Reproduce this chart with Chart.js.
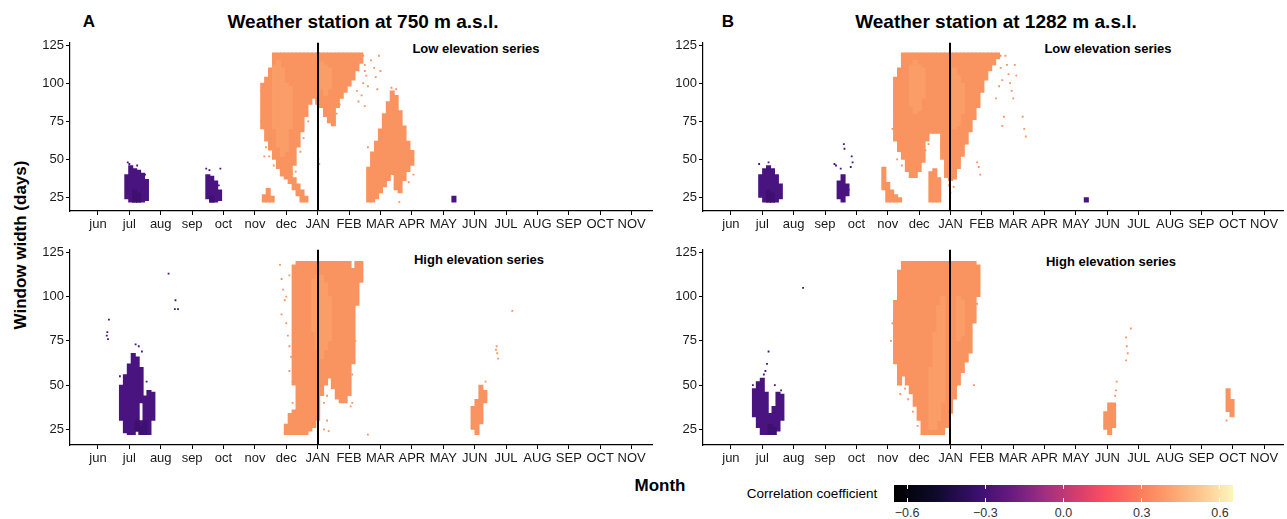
<!DOCTYPE html>
<html>
<head>
<meta charset="utf-8">
<script src="https://cdn.jsdelivr.net/npm/chart.js@4.4.1/dist/chart.umd.min.js"></script>
<style>
  body { margin: 0; background: #fff; width: 1287px; height: 519px; overflow: hidden; position: relative;
         font-family: "Liberation Sans", Arial, sans-serif; color: #000; }
  canvas { position: absolute; }
  .t { position: absolute; white-space: nowrap; transform: translate(-50%, -50%); }
  .b { font-weight: bold; }
  #cbar { position: absolute; left: 894px; top: 485px; width: 339px; height: 17px; }
</style>
</head>
<body>
<div class="t b" style="left:89px;top:22px;font-size:17px">A</div>
<div class="t b" style="left:363px;top:22px;font-size:19px">Weather station at 750 m a.s.l.</div>
<div class="t b" style="left:728px;top:22px;font-size:17px">B</div>
<div class="t b" style="left:996px;top:22px;font-size:19px">Weather station at 1282 m a.s.l.</div>
<div class="t b" style="left:476px;top:48px;font-size:13px">Low elevation series</div>
<div class="t b" style="left:1108px;top:48px;font-size:13px">Low elevation series</div>
<div class="t b" style="left:479px;top:259px;font-size:13px">High elevation series</div>
<div class="t b" style="left:1111px;top:261px;font-size:13px">High elevation series</div>
<div class="t b" style="left:21px;top:245px;font-size:17px;transform:translate(-50%,-50%) rotate(-90deg)">Window width (days)</div>
<div class="t b" style="left:660px;top:486px;font-size:17px">Month</div>
<div class="t" style="left:812px;top:493px;font-size:13.5px">Correlation coefficient</div>
<div id="cbar"></div>

<script>
// month axis: jun = 0 ... NOV = 17
const monthLabels = ['jun','jul','aug','sep','oct','nov','dec','JAN','FEB','MAR','APR','MAY','JUN','JUL','AUG','SEP','OCT','NOV'];
const janIndex = 7;
const windowTicks = [25, 50, 75, 100, 125];
const cbTicks = [-0.6, -0.3, 0.0, 0.3, 0.6];
const cbMin = -0.65, cbMax = 0.65;

// columns of significant correlations: [month position, lowest window, highest window]
// A, low elevation series
const aLowPurple = [
  [0.92,24,40],[1.045,22,46],[1.17,22,44],[1.295,22,43],[1.42,22,41],[1.545,23,37],
  [3.5,24,40],[3.625,22,39],[3.75,22,36],[3.875,23,30],
  [11.34,22,26]
];
const aLowPurpleCore = [[1.17,22,30],[1.295,22,28],[3.625,22,26]];
const aLowPurpleSpecks = [[0.95,48],[1.0,47],[1.25,46],[1.5,40],[3.45,44],[3.55,43],[3.9,44],[3.85,33]];
const aLowOrange = [
  [5.3,22,27],[5.425,22,31],[5.55,22,26],
  [5.25,70,100],[5.375,62,104],[5.5,56,110],[5.625,50,120],[5.75,44,120],[5.875,39,120],[6.0,37,120],
  [6.125,40,120],[6.25,46,120],[6.375,58,120],[6.5,68,120],[6.625,78,120],[6.75,86,120],[6.875,90,120],
  [7.0,86,120],[7.125,84,120],[7.25,78,120],[7.375,74,120],[7.5,72,120],[7.625,84,120],[7.75,90,120],
  [7.875,94,120],[8.0,98,120],[8.125,102,120],[8.25,108,120],[8.375,113,120],
  [6.0,40,46],[6.125,34,42],[6.25,30,38],[6.375,26,34],[6.5,22,30],[6.625,22,26],
  [8.625,22,45],[8.75,22,55],[8.875,24,62],[9.0,28,70],[9.125,32,80],[9.25,36,88],[9.375,40,95],
  [9.5,30,92],[9.625,28,82],[9.75,36,72],[9.875,42,62],[10.0,46,56]
];
const aLowOrangeCore = [[5.625,70,112],[5.75,58,115],[5.875,52,110],[6.0,55,100],[6.125,70,98],
  [7.125,96,114],[7.25,92,112],[7.375,96,110]];
const aLowOrangeSpecks = [[8.45,118],[8.5,112],[8.55,105],[8.6,98],[8.7,115],[8.8,110],[8.85,104],[8.9,96],
  [8.95,118],[9.0,108],[8.4,92],[8.5,85],[8.3,88],[8.25,95],[7.05,47],[7.02,50],[5.3,52],[9.35,97],
  [9.5,96],[10.05,40],[9.9,35],[9.6,22],[8.6,58],[5.2,95],[5.22,85],[5.2,75],[5.35,58],[5.45,52],
  [5.6,46],[6.3,42],[6.45,55],[6.55,64],[6.7,75],[7.6,80],[7.7,86],[8.45,100],[8.5,108]];

// A, high elevation series
const aHighPurple = [
  [0.75,30,50],[0.875,23,56],[1.0,22,62],[1.125,22,68],[1.25,24,66],[1.375,40,60],
  [1.375,22,30],[1.5,22,44],[1.625,22,47],[1.75,30,46]
];
const aHighPurpleCore = [[1.375,22,27],[1.5,22,30],[1.25,24,30]];
const aHighPurpleSpecks = [[0.28,78],[0.3,80],[0.32,76],[0.35,87],[2.25,113],[2.47,98],[2.45,93],[2.55,93],
  [1.3,72],[1.4,69],[1.2,73],[0.7,55],[1.55,52]];
const aHighOrange = [
  [6.0,22,28],[6.125,22,34],[6.25,22,36],
  [6.25,50,118],[6.375,22,120],[6.5,22,120],[6.625,22,120],[6.75,24,120],[6.875,26,120],[7.0,30,120],
  [7.125,44,120],[7.25,50,120],[7.375,54,120],[7.5,48,120],[7.625,42,120],[7.75,40,120],[7.875,40,120],
  [8.0,44,120],[8.125,62,116],[8.25,95,120],[8.375,108,120],
  [11.95,25,38],[12.075,22,42],[12.2,28,50],[12.325,40,47]
];
const aHighOrangeCore = [[6.875,80,110],[7.0,70,112],[7.125,65,112],[7.25,70,108],[7.375,75,100]];
const aHighOrangeSpecks = [[5.8,118],[5.85,110],[5.9,104],[5.95,98],[5.85,90],[6.0,85],[6.05,78],[6.1,72],
  [6.15,66],[6.1,58],[6.2,52],[6.0,100],[6.1,112],[7.2,25],[7.3,30],[7.35,24],[8.6,22],[8.15,85],
  [8.2,75],[8.1,56],[12.7,72],[12.72,68],[12.75,65],[12.68,70],[13.2,92],[12.35,52],[12.3,44],
  [6.2,40],[6.15,30],[7.2,40],[7.3,44],[8.1,40],[8.05,38]];

// B, low elevation series
const bLowPurple = [
  [0.95,25,40],[1.075,22,44],[1.2,22,46],[1.325,22,44],[1.45,22,40],[1.575,24,34],
  [3.45,24,36],[3.575,22,40],[3.7,26,34],
  [11.33,22,25]
];
const bLowPurpleCore = [[1.2,22,30],[1.325,22,28]];
const bLowPurpleSpecks = [[0.9,47],[1.2,48],[3.6,60],[3.62,57],[3.85,52],[3.88,48],[3.82,45],[3.3,47],
  [3.35,46],[3.5,44],[3.75,30]];
const bLowOrange = [
  [4.875,30,45],[5.0,22,35],[5.125,22,30],[5.25,22,27],[5.375,22,25],
  [5.25,62,104],[5.375,55,110],[5.5,50,120],[5.625,42,120],[5.75,38,120],[5.875,38,120],[6.0,42,120],
  [6.125,48,120],[6.25,62,120],[6.375,67,120],[6.5,67,120],[6.625,67,120],[6.75,50,120],[6.875,38,120],
  [6.375,22,42],[6.5,22,44],[6.625,22,38],
  [7.0,36,120],[7.125,37,120],[7.25,44,120],[7.375,52,120],[7.5,60,120],[7.625,68,120],[7.75,76,120],
  [7.875,84,120],[8.0,94,120],[8.125,102,120],[8.25,108,120],[8.375,112,120],[8.5,116,120]
];
const bLowOrangeCore = [[5.75,85,112],[5.875,80,115],[6.0,82,112],[6.125,90,110],
  [7.125,70,110],[7.25,72,105],[7.375,80,100]];
const bLowOrangeSpecks = [[7.9,45],[7.95,40],[7.85,48],[8.75,118],[8.8,112],[8.85,106],[8.9,100],[8.95,95],
  [9.0,90],[9.05,112],[9.1,105],[8.7,78],[8.65,72],[9.3,78],[9.35,70],[9.4,65],[5.2,80],[5.15,70],
  [8.6,118],[8.55,98],[8.45,90],[7.0,28],[6.95,33],[5.2,100],[5.3,50],[5.45,46],[6.2,56],[6.3,60],
  [6.7,60],[8.6,110],[8.65,102],[7.1,32]];

// B, high elevation series
const bHighPurple = [
  [0.75,32,48],[0.875,26,52],[1.0,22,54],[1.125,22,46],[1.25,22,34],[1.375,22,38],[1.5,24,46],[1.625,30,45]
];
const bHighPurpleCore = [[1.25,22,28],[1.375,22,26]];
const bHighPurpleSpecks = [[2.3,105],[1.1,58],[1.15,62],[1.2,69],[1.05,56],[0.7,50],[1.4,50],[1.6,47]];
const bHighOrange = [
  [5.25,62,98],[5.375,50,115],[5.5,55,120],[5.625,50,120],[5.75,45,120],[5.875,38,120],[6.0,30,120],
  [6.125,22,120],[6.25,22,120],[6.375,22,120],[6.5,22,120],[6.625,22,120],[6.75,22,120],[6.875,26,120],
  [7.0,34,120],[7.125,42,120],[7.25,50,120],[7.375,57,120],[7.5,63,120],[7.625,68,120],[7.75,85,120],
  [7.875,100,118],
  [11.95,25,35],[12.075,22,40],[12.2,26,40],
  [15.85,35,48],[15.975,32,42]
];
const bHighOrangeCore = [[6.375,25,60],[6.5,25,80],[6.625,30,95],[6.75,40,100],[7.25,75,100],[7.375,78,98]];
const bHighOrangeSpecks = [[7.75,50],[12.3,52],[12.28,47],[12.25,44],[12.6,77],[12.62,72],[12.65,68],
  [12.6,64],[12.75,82],[15.8,30],[5.15,85],[5.2,95],[5.1,75],[5.4,45],[5.55,48],[5.65,42],[5.8,35],
  [5.95,27],[7.9,110],[7.85,96]];

const orange = '#F9935F';
const orangeLight = '#FA9D67';
const purple = '#4A1480';
const purpleDark = '#3E1070';

function bars(cols, color, order) {
  return {
    type: 'bar',
    order: order,
    data: cols.map(c => ({ x: c[0], y: [c[1], c[2]] })),
    backgroundColor: color,
    borderWidth: 0,
    barThickness: 4.4,
    grouped: false
  };
}
function specks(pts, color) {
  return {
    type: 'scatter',
    order: 1,
    data: pts.map(p => ({ x: p[0], y: p[1] })),
    backgroundColor: color,
    pointStyle: 'rect',
    pointRadius: 1.3,
    borderWidth: 0
  };
}
// lower order is drawn on top: base colour first, lighter/darker cores over it
function panelSets(orangeCols, orangeCore, orangeSpecks, purpleCols, purpleCore, purpleSpecks) {
  return [bars(orangeCols, orange, 2), bars(purpleCols, purple, 2),
          bars(orangeCore, orangeLight, 0), bars(purpleCore, purpleDark, 0),
          specks(orangeSpecks, orange), specks(purpleSpecks, purple)];
}

const janLine = {
  id: 'janLine',
  afterDatasetsDraw(chart) {
    const { ctx, chartArea: a, scales: { x } } = chart;
    const px = Math.round(x.getPixelForValue(janIndex));
    ctx.save();
    ctx.strokeStyle = '#000';
    ctx.lineWidth = 2;
    ctx.beginPath();
    ctx.moveTo(px, a.top);
    ctx.lineTo(px, a.bottom);
    ctx.stroke();
    ctx.restore();
  }
};

const panels = [
  { left: 70,  right: 654,  top: 41,  bottom: 211, xMax: 17.65,
    sets: panelSets(aLowOrange, aLowOrangeCore, aLowOrangeSpecks, aLowPurple, aLowPurpleCore, aLowPurpleSpecks) },
  { left: 70,  right: 654,  top: 248, bottom: 445, xMax: 17.65,
    sets: panelSets(aHighOrange, aHighOrangeCore, aHighOrangeSpecks, aHighPurple, aHighPurpleCore, aHighPurpleSpecks) },
  { left: 703, right: 1285, top: 41,  bottom: 211, xMax: 17.6,
    sets: panelSets(bLowOrange, bLowOrangeCore, bLowOrangeSpecks, bLowPurple, bLowPurpleCore, bLowPurpleSpecks) },
  { left: 703, right: 1285, top: 248, bottom: 445, xMax: 17.6,
    sets: panelSets(bHighOrange, bHighOrangeCore, bHighOrangeSpecks, bHighPurple, bHighPurpleCore, bHighPurpleSpecks) }
];

const yAxisW = 45, xAxisH = 30, padT = 8, padR = 2;
const tickFont = { family: '"Liberation Sans", Arial, sans-serif', size: 13 };

panels.forEach(p => {
  const cv = document.createElement('canvas');
  cv.width = p.right - p.left + yAxisW + padR;
  cv.height = p.bottom - p.top + padT + xAxisH;
  cv.style.left = (p.left - yAxisW) + 'px';
  cv.style.top = (p.top - padT) + 'px';
  document.body.appendChild(cv);

  new Chart(cv.getContext('2d'), {
    type: 'bar',
    data: { datasets: p.sets },
    options: {
      responsive: false,
      animation: false,
      events: [],
      layout: { padding: { top: padT, right: padR, left: 0, bottom: 0 } },
      plugins: { legend: { display: false }, tooltip: { enabled: false } },
      scales: {
        x: {
          type: 'linear', offset: false, min: -0.89, max: p.xMax,
          grid: { display: true, drawOnChartArea: false, offset: false, color: '#000', tickLength: 4, lineWidth: 1 },
          border: { display: true, color: '#000', width: 1.2 },
          afterBuildTicks: s => { s.ticks = monthLabels.map((_, i) => ({ value: i })); },
          afterFit: s => { s.height = xAxisH; },
          ticks: { autoSkip: false, maxRotation: 0, minRotation: 0, padding: 2, color: '#1a1a1a', font: tickFont,
                   callback: v => monthLabels[v] }
        },
        y: {
          type: 'linear', min: 16.15, max: 126.5,
          grid: { display: true, drawOnChartArea: false, color: '#000', tickLength: 4, lineWidth: 1 },
          border: { display: true, color: '#000', width: 1.2 },
          afterBuildTicks: s => { s.ticks = windowTicks.map(v => ({ value: v })); },
          afterFit: s => { s.width = yAxisW; },
          ticks: { padding: 2, color: '#1a1a1a', font: tickFont }
        }
      }
    },
    plugins: [janLine]
  });
});

// colour bar legend
const cbar = document.getElementById('cbar');
cbar.style.background = 'linear-gradient(to right, #000000 0%, #0d0a29 12%, #3b0f70 25%, #6a1b82 35%, #a3307e 45%, #d93f6c 55%, #fb4d63 62%, #fb7a5a 72%, #fd9b68 80%, #fdc58c 90%, #fcf6ba 100%)';
cbTicks.forEach(v => {
  const f = (v - cbMin) / (cbMax - cbMin);
  const x = 894 + f * 339;
  ['485px', '498px'].forEach(top => {
    const m = document.createElement('div');
    m.style.cssText = `position:absolute;left:${x - 0.5}px;top:${top};width:1px;height:4px;background:#fff;`;
    document.body.appendChild(m);
  });
  const l = document.createElement('div');
  l.className = 't';
  l.style.cssText = `left:${x}px;top:513px;font-size:12.5px;color:#333;`;
  l.textContent = (v < 0 ? '\u2212' : '') + Math.abs(v).toFixed(1);
  document.body.appendChild(l);
});
</script>
</body>
</html>
